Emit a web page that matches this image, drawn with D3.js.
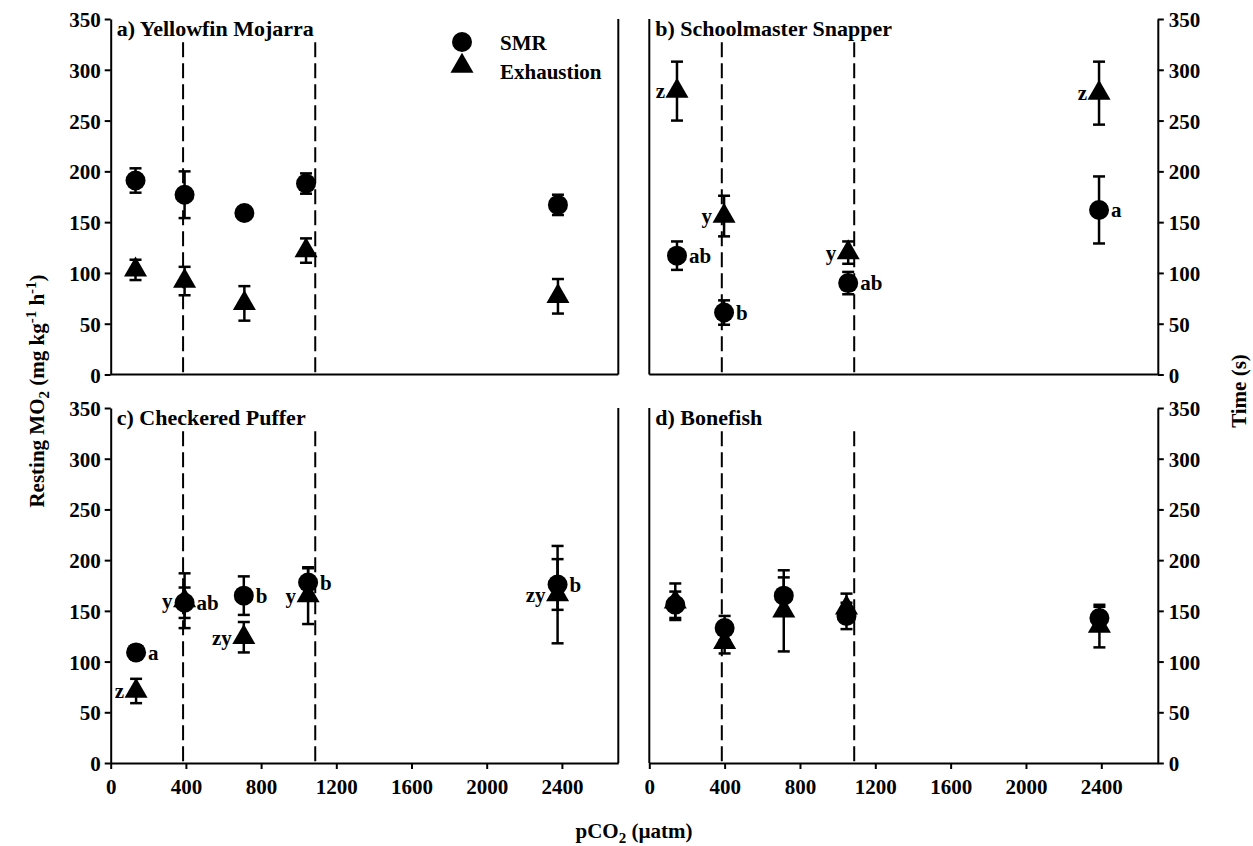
<!DOCTYPE html>
<html>
<head>
<meta charset="utf-8">
<script src="https://cdn.jsdelivr.net/npm/d3@7"></script>
<style>
  body { margin: 0; background: #fff; }
  text { font-family: "Liberation Serif", "Times New Roman", serif; font-weight: bold; fill: #000; }
</style>
</head>
<body>
<script>
// a) Yellowfin Mojarra
const pco2A = [132, 393, 711, 1039, 2379];
const smrA = [191, 177, 159, 188, 167];
const smrErrA = [12, 23, 4, 10, 10];
const exhA = [103, 92, 70, 122, 77];
const exhErrA = [10, 14, 17, 12, 17];

// b) Schoolmaster Snapper
const pco2B = [147, 397, 1056, 2388];
const smrB = [117, 61, 90, 162];
const smrErrB = [14, 12, 11, 33];
const exhB = [279, 156, 120, 277];
const exhErrB = [29, 20, 11, 31];
const smrLetB = ["ab", "b", "ab", "a"];
const exhLetB = ["z", "y", "y", "z"];

// c) Checkered Puffer
const pco2C = [135, 393, 708, 1050, 2377];
const smrC = [109, 158, 165, 178, 176];
const smrErrC = [7, 15, 19, 14, 25];
const exhC = [71, 160, 124, 165, 166];
const exhErrC = [12, 27, 15, 28, 48];
const smrLetC = ["a", "ab", "b", "b", "b"];
const exhLetC = ["z", "y", "zy", "y", "zy"];

// d) Bonefish
const pco2D = [138, 400, 714, 1047, 2390];
const smrD = [156, 133, 165, 145, 143];
const smrErrD = [13, 12, 18, 13, 11];
const exhD = [159, 119, 150, 153, 135];
const exhErrD = [18, 11, 40, 14, 21];

const yTicks = [0, 50, 100, 150, 200, 250, 300, 350];
const xTicks = [0, 400, 800, 1200, 1600, 2000, 2400];
const dashedAt = [385, 1088];

const width = 1253, height = 846;
const colL = [110.7, 618.3], colR = [649.3, 1157.8];
const rowT = [374.5, 19], rowB = [763, 408];

const svg = d3.select("body").append("svg")
    .attr("width", width)
    .attr("height", height)
    .style("background", "#fff");

function drawPanel(p) {
  const x = d3.scaleLinear().domain([0, 2700]).range(p.xr);
  const y = d3.scaleLinear().domain([0, 350]).range(p.yr);
  const g = svg.append("g");

  // y axis on the outside edge, plain border on the inner edge
  if (p.left) {
    const ax = g.append("g").attr("transform", `translate(${p.xr[0]},0)`)
      .call(d3.axisLeft(y).tickValues(yTicks).tickSize(6).tickSizeOuter(0).tickPadding(4));
    styleAxis(ax);
    ax.selectAll("text").attr("dy", "0.36em");
    g.append("line").attr("x1", p.xr[1]).attr("x2", p.xr[1]).attr("y1", p.yr[1]).attr("y2", p.yr[0])
      .attr("stroke", "#000").attr("stroke-width", 2);
  } else {
    const ax = g.append("g").attr("transform", `translate(${p.xr[1]},0)`)
      .call(d3.axisRight(y).tickValues(yTicks).tickSize(6).tickSizeOuter(0).tickPadding(5));
    styleAxis(ax);
    ax.selectAll("text").attr("dy", "0.36em");
    g.append("line").attr("x1", p.xr[0]).attr("x2", p.xr[0]).attr("y1", p.yr[1]).attr("y2", p.yr[0])
      .attr("stroke", "#000").attr("stroke-width", 2);
  }

  if (p.bottom) {
    const ax = g.append("g").attr("transform", `translate(0,${p.yr[0]})`)
      .call(d3.axisBottom(x).tickValues(xTicks).tickFormat(d3.format("d"))
        .tickSize(6).tickSizeOuter(0).tickPadding(10));
    styleAxis(ax);
  } else {
    g.append("line").attr("x1", p.xr[0]).attr("x2", p.xr[1]).attr("y1", p.yr[0]).attr("y2", p.yr[0])
      .attr("stroke", "#000").attr("stroke-width", 2);
  }

  // dashed reference lines
  g.selectAll(".dash").data(dashedAt).join("line")
    .attr("x1", d => x(d)).attr("x2", d => x(d))
    .attr("y1", y(327)).attr("y2", y(0))
    .attr("stroke", "#000").attr("stroke-width", 2)
    .attr("stroke-dasharray", "15,6");

  g.append("text").attr("x", p.xr[0] + 6).attr("y", p.yr[1] + 17)
    .attr("font-size", 22).text(p.title);

  const exh = p.pco2.map((v, i) => ({x: v, y: p.exh[i], e: p.exhErr[i], lab: p.exhLet ? p.exhLet[i] : null}));
  const smr = p.pco2.map((v, i) => ({x: v, y: p.smr[i], e: p.smrErr[i], lab: p.smrLet ? p.smrLet[i] : null}));

  [exh, smr].forEach(s => {
    const eb = g.append("g").attr("stroke", "#000").attr("stroke-width", 2.5);
    s.forEach(d => {
      eb.append("line").attr("x1", x(d.x)).attr("x2", x(d.x)).attr("y1", y(d.y - d.e)).attr("y2", y(d.y + d.e));
      [d.y - d.e, d.y + d.e].forEach(v => {
        eb.append("line").attr("x1", x(d.x) - 6).attr("x2", x(d.x) + 6).attr("y1", y(v)).attr("y2", y(v));
      });
    });
  });

  g.selectAll(".tri").data(exh).join("path")
    .attr("d", d3.symbol(d3.symbolTriangle, 230))
    .attr("transform", d => `translate(${x(d.x)},${y(d.y)})`)
    .attr("fill", "#000");
  g.selectAll(".dot").data(smr).join("circle")
    .attr("cx", d => x(d.x)).attr("cy", d => y(d.y)).attr("r", 10)
    .attr("fill", "#000");

  g.selectAll(".exlab").data(exh.filter(d => d.lab)).join("text")
    .attr("x", d => x(d.x) - 12).attr("y", d => y(d.y)).attr("dy", "0.35em")
    .attr("text-anchor", "end").attr("font-size", 21).text(d => d.lab);
  g.selectAll(".smlab").data(smr.filter(d => d.lab)).join("text")
    .attr("x", d => x(d.x) + 12).attr("y", d => y(d.y)).attr("dy", "0.35em")
    .attr("font-size", 21).text(d => d.lab);
}

function styleAxis(ax) {
  ax.attr("font-family", null).attr("font-size", null);
  ax.selectAll("path,line").attr("stroke", "#000").attr("stroke-width", 2);
  ax.selectAll("text").attr("font-size", 21).attr("fill", "#000");
}

drawPanel({xr: colL, yr: rowT, left: true, bottom: false, title: "a) Yellowfin Mojarra",
  pco2: pco2A, smr: smrA, smrErr: smrErrA, exh: exhA, exhErr: exhErrA});
drawPanel({xr: colR, yr: rowT, left: false, bottom: false, title: "b) Schoolmaster Snapper",
  pco2: pco2B, smr: smrB, smrErr: smrErrB, exh: exhB, exhErr: exhErrB, smrLet: smrLetB, exhLet: exhLetB});
drawPanel({xr: colL, yr: rowB, left: true, bottom: true, title: "c) Checkered Puffer",
  pco2: pco2C, smr: smrC, smrErr: smrErrC, exh: exhC, exhErr: exhErrC, smrLet: smrLetC, exhLet: exhLetC});
drawPanel({xr: colR, yr: rowB, left: false, bottom: true, title: "d) Bonefish",
  pco2: pco2D, smr: smrD, smrErr: smrErrD, exh: exhD, exhErr: exhErrD});

// legend
svg.append("circle").attr("cx", 462).attr("cy", 42).attr("r", 10).attr("fill", "#000");
svg.append("path").attr("d", d3.symbol(d3.symbolTriangle, 230))
  .attr("transform", "translate(462,66)").attr("fill", "#000");
svg.append("text").attr("x", 500).attr("y", 50).attr("font-size", 21).text("SMR");
svg.append("text").attr("x", 500).attr("y", 79).attr("font-size", 21).text("Exhaustion");

// axis titles
const yl = svg.append("text").attr("transform", "translate(44,391) rotate(-90)")
  .attr("text-anchor", "middle").attr("font-size", 21);
yl.append("tspan").text("Resting MO");
yl.append("tspan").attr("dy", 5).attr("font-size", 15).text("2");
yl.append("tspan").attr("dy", -5).text(" (mg kg");
yl.append("tspan").attr("dy", -8).attr("font-size", 15).text("-1");
yl.append("tspan").attr("dy", 8).text(" h");
yl.append("tspan").attr("dy", -8).attr("font-size", 15).text("-1");
yl.append("tspan").attr("dy", 8).text(")");

svg.append("text").attr("transform", "translate(1246,391) rotate(-90)")
  .attr("text-anchor", "middle").attr("font-size", 21).text("Time (s)");

const xl = svg.append("text").attr("x", 634).attr("y", 838)
  .attr("text-anchor", "middle").attr("font-size", 21);
xl.append("tspan").text("pCO");
xl.append("tspan").attr("dy", 5).attr("font-size", 15).text("2");
xl.append("tspan").attr("dy", -5).text(" (\u00b5atm)");
</script>
</body>
</html>
